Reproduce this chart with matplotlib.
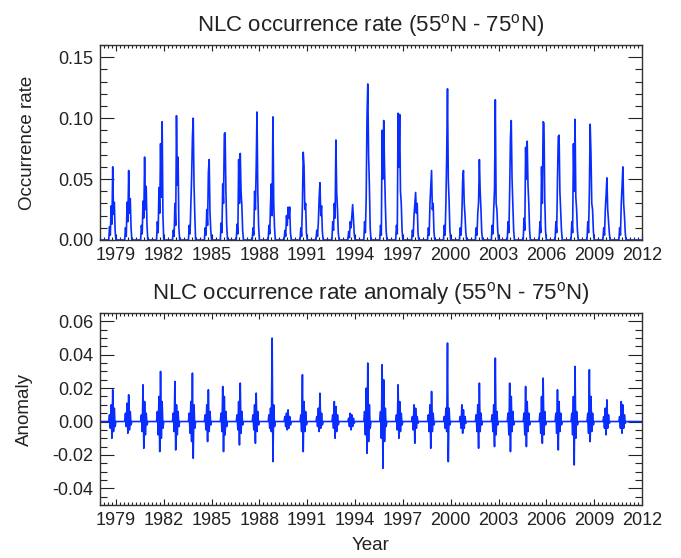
import numpy as np
import matplotlib
matplotlib.use("Agg")
import matplotlib.pyplot as plt
from matplotlib.ticker import MultipleLocator

plt.rcParams['font.family'] = ['Liberation Sans', 'DejaVu Sans']
plt.rcParams['mathtext.fontset'] = 'custom'
plt.rcParams['mathtext.rm'] = 'Liberation Sans'

years = list(range(1979, 2012))

# seasonal samples (summer)
rate_seasons = [
    [0.000, 0.011, 0.004, 0.028, 0.013, 0.060, 0.021, 0.031, 0.008, 0.000],
    [0.000, 0.010, 0.003, 0.031, 0.015, 0.057, 0.022, 0.034, 0.010, 0.000],
    [0.000, 0.012, 0.005, 0.032, 0.018, 0.068, 0.025, 0.044, 0.012, 0.000],
    [0.000, 0.015, 0.006, 0.043, 0.022, 0.079, 0.035, 0.097, 0.020, 0.000],
    [0.000, 0.008, 0.003, 0.030, 0.012, 0.102, 0.045, 0.068, 0.010, 0.000],
    [0.000, 0.012, 0.005, 0.030, 0.052, 0.084, 0.100, 0.045, 0.020, 0.000],
    [0.000, 0.010, 0.004, 0.025, 0.012, 0.055, 0.066, 0.023, 0.008, 0.000],
    [0.000, 0.014, 0.006, 0.046, 0.030, 0.087, 0.088, 0.040, 0.012, 0.000],
    [0.000, 0.013, 0.005, 0.066, 0.030, 0.071, 0.040, 0.028, 0.008, 0.000],
    [0.000, 0.010, 0.004, 0.040, 0.025, 0.060, 0.105, 0.040, 0.012, 0.000],
    [0.000, 0.012, 0.005, 0.030, 0.046, 0.020, 0.101, 0.030, 0.010, 0.000],
    [0.000, 0.008, 0.003, 0.020, 0.012, 0.027, 0.018, 0.027, 0.006, 0.000],
    [0.000, 0.010, 0.003, 0.030, 0.072, 0.061, 0.025, 0.030, 0.006, 0.000],
    [0.000, 0.008, 0.003, 0.015, 0.035, 0.047, 0.020, 0.028, 0.007, 0.000],
    [0.000, 0.015, 0.008, 0.030, 0.018, 0.082, 0.039, 0.025, 0.006, 0.000],
    [0.000, 0.007, 0.002, 0.015, 0.010, 0.020, 0.029, 0.018, 0.005, 0.000],
    [0.000, 0.015, 0.006, 0.035, 0.101, 0.128, 0.070, 0.045, 0.010, 0.000],
    [0.000, 0.012, 0.004, 0.090, 0.050, 0.098, 0.060, 0.030, 0.008, 0.000],
    [0.000, 0.012, 0.005, 0.104, 0.060, 0.103, 0.040, 0.030, 0.008, 0.000],
    [0.000, 0.008, 0.003, 0.020, 0.030, 0.039, 0.022, 0.030, 0.006, 0.000],
    [0.000, 0.010, 0.004, 0.030, 0.044, 0.057, 0.025, 0.030, 0.007, 0.000],
    [0.000, 0.012, 0.004, 0.030, 0.070, 0.124, 0.050, 0.032, 0.008, 0.000],
    [0.000, 0.010, 0.004, 0.020, 0.048, 0.057, 0.030, 0.020, 0.006, 0.000],
    [0.000, 0.010, 0.004, 0.022, 0.031, 0.066, 0.040, 0.025, 0.006, 0.000],
    [0.000, 0.012, 0.005, 0.025, 0.042, 0.115, 0.030, 0.025, 0.008, 0.000],
    [0.000, 0.015, 0.006, 0.040, 0.084, 0.098, 0.050, 0.030, 0.008, 0.000],
    [0.000, 0.018, 0.008, 0.076, 0.050, 0.081, 0.045, 0.030, 0.008, 0.000],
    [0.000, 0.015, 0.006, 0.060, 0.030, 0.097, 0.096, 0.035, 0.008, 0.000],
    [0.000, 0.015, 0.006, 0.050, 0.085, 0.086, 0.040, 0.025, 0.008, 0.000],
    [0.000, 0.015, 0.006, 0.079, 0.040, 0.099, 0.035, 0.025, 0.008, 0.000],
    [0.000, 0.015, 0.006, 0.040, 0.095, 0.071, 0.030, 0.025, 0.008, 0.000],
    [0.000, 0.010, 0.004, 0.025, 0.037, 0.051, 0.025, 0.015, 0.006, 0.000],
    [0.000, 0.010, 0.004, 0.030, 0.044, 0.060, 0.030, 0.020, 0.006, 0.000],
]

anom_seasons = [
    [0.000, 0.004, -0.004, 0.010, -0.010, 0.019, -0.006, 0.008, -0.003, 0.000],
    [0.000, 0.005, -0.003, 0.011, -0.007, 0.016, -0.005, 0.006, -0.002, 0.000],
    [0.000, 0.004, -0.006, 0.022, -0.016, 0.012, -0.008, 0.005, -0.002, 0.000],
    [0.000, 0.006, -0.008, 0.015, -0.018, 0.030, -0.010, 0.012, -0.004, 0.000],
    [0.000, 0.005, -0.006, 0.024, -0.017, 0.010, -0.008, 0.006, -0.003, 0.000],
    [0.000, 0.005, -0.007, 0.012, -0.012, 0.029, -0.022, 0.010, -0.004, 0.000],
    [0.000, 0.004, -0.005, 0.010, -0.012, 0.019, -0.006, 0.006, -0.002, 0.000],
    [0.000, 0.005, -0.006, 0.021, -0.018, 0.015, -0.008, 0.006, -0.003, 0.000],
    [0.000, 0.004, -0.005, 0.012, -0.014, 0.023, -0.007, 0.006, -0.002, 0.000],
    [0.000, 0.004, -0.005, 0.010, -0.013, 0.017, -0.006, 0.006, -0.002, 0.000],
    [0.000, 0.004, -0.004, 0.008, -0.006, 0.050, -0.024, 0.010, -0.003, 0.000],
    [0.000, 0.003, -0.003, 0.005, -0.005, 0.007, -0.004, 0.003, -0.002, 0.000],
    [0.000, 0.004, -0.006, 0.028, -0.018, 0.012, -0.006, 0.006, -0.002, 0.000],
    [0.000, 0.003, -0.003, 0.008, -0.006, 0.017, -0.004, 0.005, -0.002, 0.000],
    [0.000, 0.004, -0.004, 0.012, -0.010, 0.009, -0.006, 0.004, -0.002, 0.000],
    [0.000, 0.002, -0.003, 0.005, -0.005, 0.004, -0.003, 0.002, -0.001, 0.000],
    [0.000, 0.006, -0.008, 0.020, -0.019, 0.035, -0.012, 0.010, -0.004, 0.000],
    [0.000, 0.006, -0.010, 0.034, -0.028, 0.025, -0.012, 0.008, -0.003, 0.000],
    [0.000, 0.004, -0.005, 0.022, -0.010, 0.012, -0.006, 0.005, -0.002, 0.000],
    [0.000, 0.003, -0.005, 0.010, -0.013, 0.008, -0.004, 0.003, -0.001, 0.000],
    [0.000, 0.004, -0.006, 0.010, -0.016, 0.018, -0.006, 0.005, -0.002, 0.000],
    [0.000, 0.003, -0.004, 0.008, -0.006, 0.047, -0.024, 0.008, -0.002, 0.000],
    [0.000, 0.003, -0.004, 0.010, -0.007, 0.007, -0.004, 0.003, -0.001, 0.000],
    [0.000, 0.004, -0.006, 0.010, -0.016, 0.023, -0.006, 0.005, -0.002, 0.000],
    [0.000, 0.004, -0.006, 0.010, -0.015, 0.038, -0.008, 0.006, -0.002, 0.000],
    [0.000, 0.005, -0.008, 0.023, -0.018, 0.015, -0.006, 0.006, -0.002, 0.000],
    [0.000, 0.005, -0.008, 0.021, -0.015, 0.012, -0.006, 0.005, -0.002, 0.000],
    [0.000, 0.005, -0.007, 0.015, -0.013, 0.026, -0.008, 0.006, -0.002, 0.000],
    [0.000, 0.005, -0.007, 0.019, -0.017, 0.012, -0.006, 0.005, -0.002, 0.000],
    [0.000, 0.005, -0.008, 0.015, -0.026, 0.033, -0.010, 0.006, -0.002, 0.000],
    [0.000, 0.005, -0.007, 0.031, -0.012, 0.015, -0.006, 0.005, -0.002, 0.000],
    [0.000, 0.003, -0.004, 0.008, -0.008, 0.013, -0.004, 0.004, -0.001, 0.000],
    [0.000, 0.003, -0.004, 0.012, -0.007, 0.010, -0.004, 0.004, -0.001, 0.000],
]

season_start = -0.45   # season position relative to the year tick
season_end = 0.0
x_lim = (1978, 2012)


def build_series(seasons):
    xs = [x_lim[0]]
    ys = [0.0]
    for yr, vals in zip(years, seasons):
        xs.extend(yr + np.linspace(season_start, season_end, len(vals)))
        ys.extend(vals)
    xs.append(x_lim[1])
    ys.append(0.0)
    return np.array(xs), np.array(ys)


def style_axes(ax):
    ax.set_xlim(*x_lim)
    ax.xaxis.set_minor_locator(MultipleLocator(0.25))
    ax.set_xticks(range(1979, 2013, 3))
    ax.tick_params(which='both', direction='in', top=True, right=True,
                   labelsize=13, colors='#222222', width=0.8)
    ax.tick_params(axis='x', which='major', length=4, pad=5)
    ax.tick_params(axis='x', which='minor', length=2)
    ax.tick_params(axis='y', which='major', length=10, pad=5)
    ax.tick_params(axis='y', which='minor', length=5)
    for s in ax.spines.values():
        s.set_color('#333333')
        s.set_linewidth(1.0)


fig = plt.figure(figsize=(6.81, 5.58), dpi=100)
ax1 = fig.add_axes([0.1468, 0.5699, 0.7959, 0.3495])
ax2 = fig.add_axes([0.1468, 0.0950, 0.7959, 0.3440])

blue = '#0a2dff'

x1, y1 = build_series(rate_seasons)
ax1.plot(x1, y1, color=blue, lw=1.2)
style_axes(ax1)
ax1.set_ylim(0, 0.16)
ax1.yaxis.set_major_locator(MultipleLocator(0.05))
ax1.yaxis.set_minor_locator(MultipleLocator(0.01))
ax1.yaxis.set_major_formatter(plt.FormatStrFormatter('%.2f'))
ax1.set_ylabel('Occurrence rate', fontsize=13.5, color='#222222', labelpad=16)
ax1.set_title('NLC occurrence rate (55$^\\mathrm{o}$N - 75$^\\mathrm{o}$N)',
              fontsize=16, color='#222222', pad=10)

x2, y2 = build_series(anom_seasons)
ax2.plot(x2, y2, color=blue, lw=1.2)
style_axes(ax2)
ax2.set_ylim(-0.05, 0.065)
ax2.yaxis.set_major_locator(MultipleLocator(0.02))
ax2.yaxis.set_minor_locator(MultipleLocator(0.005))
ax2.yaxis.set_major_formatter(plt.FormatStrFormatter('%.2f'))
ax2.set_ylabel('Anomaly', fontsize=13.5, color='#222222', labelpad=14)
ax2.set_xlabel('Year', fontsize=13.5, color='#222222', labelpad=6)
ax2.set_title('NLC occurrence rate anomaly (55$^\\mathrm{o}$N - 75$^\\mathrm{o}$N)',
              fontsize=16, color='#222222', pad=10)

fig.savefig('out.png', dpi=100)
